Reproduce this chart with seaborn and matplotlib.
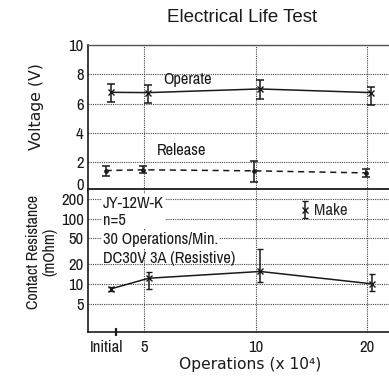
import numpy as np
import pandas as pd
import matplotlib
matplotlib.use("Agg")
import matplotlib.pyplot as plt
from matplotlib import font_manager
from matplotlib.transforms import ScaledTranslation, blended_transform_factory
import seaborn as sns

# ---- data -------------------------------------------------------------
ops_labels = ["Initial", "5", "10", "20"]

operate_mean = [6.77, 6.75, 7.00, 6.75]
operate_max = [7.34, 7.30, 7.59, 7.11]
operate_min = [6.09, 6.02, 6.34, 5.91]

release_mean = [1.43, 1.48, 1.41, 1.27]
release_max = [1.77, 1.75, 2.05, 1.55]
release_min = [1.07, 1.25, 0.68, 1.00]

make_mean = [8.5, 12.3, 15.6, 10.1]
make_max = [9.0, 15.1, 34.5, 14.5]
make_min = [7.9, 8.4, 10.6, 7.9]

voltage_ticks = [0, 2, 4, 6, 8, 10]
resistance_ticks = [5, 10, 20, 50, 100, 200]

# ---- style ------------------------------------------------------------
sns.set_theme(style="white")

# prefer a narrow sans face when one is installed
fonts = font_manager.fontManager.ttflist
narrow_name, narrow_stretch = None, "normal"
for f in fonts:
    if ("Narrow" in f.name or "Condensed" in f.name) and "Mono" not in f.name:
        narrow_name = f.name
        break
if narrow_name is None:
    for f in fonts:
        if f.name in ("Noto Sans", "Open Sans", "Roboto") and str(f.stretch) in (
                "condensed", "semi-condensed", "extra-condensed", "75", "87.5", "62.5"):
            narrow_name, narrow_stretch = f.name, f.stretch
            break
if narrow_name is None:
    narrow_name = "Roboto"
plt.rcParams["font.family"] = [narrow_name, "DejaVu Sans"]
plt.rcParams["font.stretch"] = narrow_stretch
plt.rcParams["axes.linewidth"] = 1.2

INK = "#1a1a1a"
GRID = "#444444"
TICK_FS = 12
NOTE_FS = 11.8
WIDE = ["DejaVu Sans"]

# category positions on the operations axis (5, 10, 20 equally spaced as on a log axis)
cat_pos = np.array([-0.335, 0.0, 1.0, 2.0])
x_release = cat_pos - 0.012
x_operate = cat_pos + 0.035
x_make = cat_pos + 0.04

W, H = 389, 377
fig = plt.figure(figsize=(W / 100, H / 100), dpi=100)

def frac_box(left, top, right, bottom):
    return [left / W, 1 - bottom / H, (right - left) / W, (bottom - top) / H]

ax_v = fig.add_axes(frac_box(88, 45, 389, 191.5))
ax_r = fig.add_axes(frac_box(88, 189.3, 389, 331.7))

xlim = (-0.505, 2.195)

def style_grid(ax):
    ax.set_xlim(*xlim)
    ax.set_xticks([0, 1, 2])
    ax.grid(True, which="major", color=GRID, linestyle=(0, (1, 1)), linewidth=0.8)
    ax.set_axisbelow(True)
    ax.tick_params(axis="both", which="both", length=0, labelsize=TICK_FS, colors=INK, pad=3)
    ax.spines["right"].set_visible(False)

# ---- voltage panel ---------------------------------------------------
style_grid(ax_v)
ax_v.set_ylim(0, 10)
ax_v.set_yticks(voltage_ticks)
ax_v.set_xticklabels([])
ax_v.spines["bottom"].set_visible(False)
ax_v.spines["top"].set_color("#555555")
ax_v.spines["top"].set_linewidth(1.0)
ax_v.spines["left"].set_color(INK)

volt_df = pd.DataFrame({
    "x_operate": x_operate, "operate": operate_mean,
    "x_release": x_release, "release": release_mean,
})
sns.lineplot(data=volt_df, x="x_operate", y="operate", ax=ax_v, color=INK,
             linewidth=1.1, marker="x", markersize=4, markeredgewidth=1.0,
             markeredgecolor=INK, sort=False)
sns.lineplot(data=volt_df, x="x_release", y="release", ax=ax_v, color=INK,
             linewidth=1.1, linestyle=(0, (4, 3)), marker="o", markersize=2.6,
             markeredgecolor=INK, sort=False)

op_err = [np.subtract(operate_mean, operate_min), np.subtract(operate_max, operate_mean)]
rel_err = [np.subtract(release_mean, release_min), np.subtract(release_max, release_mean)]
ax_v.errorbar(x_operate, operate_mean, yerr=op_err, fmt="none", ecolor=INK,
              elinewidth=1.1, capsize=3, capthick=1.1)
ax_v.errorbar(x_release, release_mean, yerr=rel_err, fmt="none", ecolor=INK,
              elinewidth=1.1, capsize=3, capthick=1.1)

ax_v.text(0.387, 7.63, "Operate", ha="center", va="center", fontsize=NOTE_FS, color=INK)
ax_v.text(0.335, 2.78, "Release", ha="center", va="center", fontsize=NOTE_FS, color=INK)
ax_v.set_xlabel("")
ax_v.set_ylabel("")

# lift the "0" label so it sits just above the panel divider
for lbl in ax_v.get_yticklabels():
    if lbl.get_text() == "0":
        lbl.set_transform(lbl.get_transform() + ScaledTranslation(0, 7 / 100, fig.dpi_scale_trans))

# ---- contact resistance panel ------------------------------------------
style_grid(ax_r)
ax_r.set_yscale("log")
ax_r.set_ylim(1.87, 282)
ax_r.set_yticks(resistance_ticks)
ax_r.set_yticklabels([str(t) for t in resistance_ticks])
ax_r.yaxis.set_minor_locator(matplotlib.ticker.NullLocator())
ax_r.set_xticks([cat_pos[0]], minor=True)
ax_r.set_xticklabels([ops_labels[0]], minor=True)
ax_r.set_xticklabels(ops_labels[1:])
ax_r.tick_params(axis="x", which="both", pad=6)
for side in ("left", "bottom", "top"):
    ax_r.spines[side].set_color(INK)
ax_r.spines["top"].set_linewidth(1.3)

res_df = pd.DataFrame({"x": x_make, "make": make_mean})
sns.lineplot(data=res_df, x="x", y="make", ax=ax_r, color=INK, linewidth=1.1, sort=False)
make_err = [np.subtract(make_mean, make_min), np.subtract(make_max, make_mean)]
ax_r.errorbar(x_make, make_mean, yerr=make_err, fmt="x", color=INK, markersize=4,
              markeredgewidth=1.0, ecolor=INK, elinewidth=1.1, capsize=2.5, capthick=1.1,
              label="Make")
ax_r.set_xlabel("")
ax_r.set_ylabel("")

leg = ax_r.legend(loc="center left", bbox_to_anchor=(0.68, 0.848), frameon=False,
                  fontsize=TICK_FS, handlelength=0.45, handletextpad=0.35, borderpad=0)

box = dict(facecolor="white", edgecolor="none", pad=1.0)
ax_r.text(0.05, 0.842, "JY-12W-K\nn=5", transform=ax_r.transAxes, ha="left", va="center",
          fontsize=NOTE_FS, color=INK, linespacing=1.18, bbox=box)
ax_r.text(0.05, 0.644, "30 Operations/Min.", transform=ax_r.transAxes, ha="left",
          va="center", fontsize=NOTE_FS, color=INK, bbox=box)
ax_r.text(0.05, 0.515, "DC30V 3A (Resistive)", transform=ax_r.transAxes, ha="left",
          va="center", fontsize=NOTE_FS, color=INK)

# axis break mark between the initial reading and the cycled readings
brk = blended_transform_factory(ax_r.transData, ax_r.transAxes)
for dx in (-0.266, -0.254):
    ax_r.plot([dx, dx], [-0.025, 0.025], transform=brk, color=INK, linewidth=0.9,
              clip_on=False)

# ---- titles and axis labels -------------------------------------------
fig.text(242 / W, 1 - 17 / H, "Electrical Life Test", ha="center", va="center",
         fontsize=13.5, family="Liberation Sans", color=INK)
fig.text(37 / W, 1 - 107 / H, "Voltage (V)", rotation=90, ha="center", va="center",
         fontsize=11.3, family=WIDE, color=INK)
fig.text(41.5 / W, 1 - 252 / H, "Contact Resistance\n(mOhm)", rotation=90, ha="center",
         va="center", fontsize=11.5, color=INK, multialignment="center", linespacing=1.15)
fig.text(250 / W, 1 - 364 / H, "Operations (x 10\u2074)", ha="center", va="center",
         fontsize=11.2, family=WIDE, color=INK)

fig.savefig("out.png", dpi=100)
